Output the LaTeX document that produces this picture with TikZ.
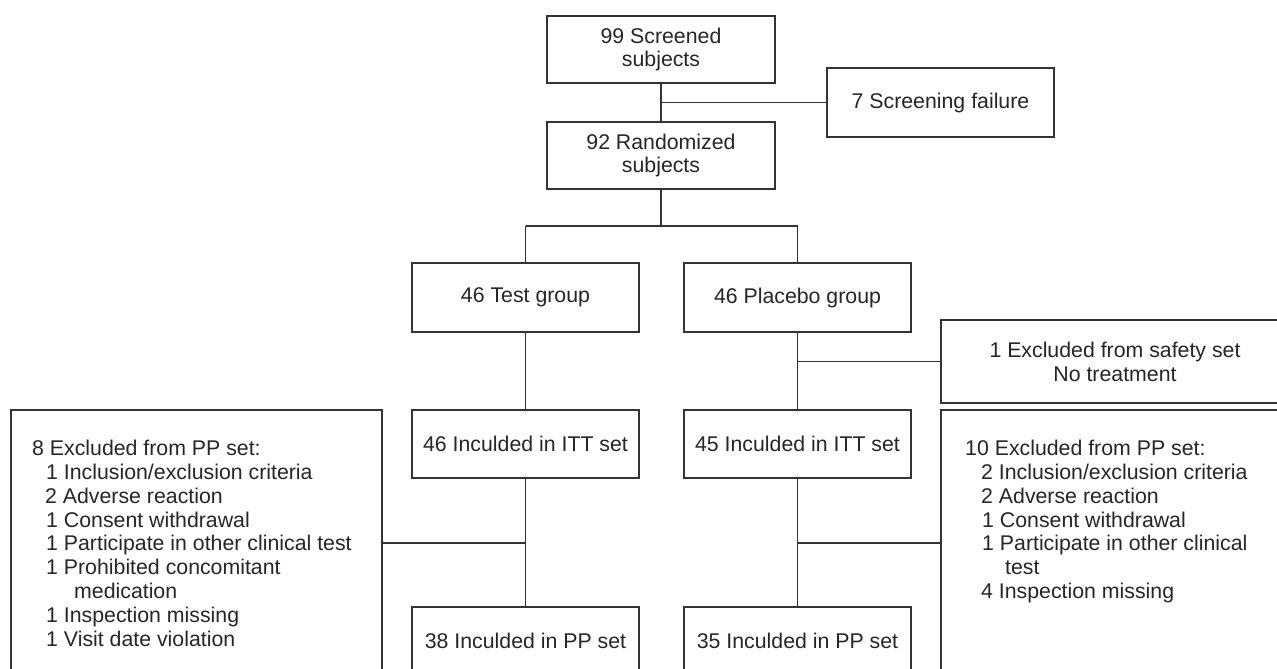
\documentclass[tikz,border=0pt]{standalone}
\usepackage{fontspec}
\setmainfont{Liberation Sans}
\begin{document}
\begin{tikzpicture}[x=1pt,y=-1pt,
  every node/.style={font=\fontsize{21.3}{23.8}\selectfont, text=black!85},
  box/.style={draw=black!80, line width=1.5pt, inner sep=0pt, align=center},
  conn/.style={draw=black!80, line width=1.5pt},
  plain/.style={inner sep=0pt, align=left, anchor=north west}]
\useasboundingbox (0,0) rectangle (1277,669);
\clip (0,0) rectangle (1277,669);
\fill[white] (0,0) rectangle (1277,669);
% boxes
\node[box, minimum width=228pt, minimum height=67pt] (scr) at (661,49.5) {99 Screened\\subjects};
\node[box, minimum width=227pt, minimum height=69pt] (fail) at (940.5,102.5) {7 Screening failure};
\node[box, minimum width=228pt, minimum height=67pt] (rand) at (661,155.5) {92 Randomized\\subjects};
\node[box, minimum width=227pt, minimum height=69pt] (test) at (525.5,297.5) {46 Test group};
\node[box, minimum width=227pt, minimum height=69pt] (plac) at (797.5,297.5) {46 Placebo group};
\node[box, minimum width=348pt, minimum height=83pt] (safe) at (1115,361.5) {1 Excluded from safety set\\No treatment};
\node[box, minimum width=227pt, minimum height=68pt] (ittT) at (525.5,444) {46 Inculded in ITT set};
\node[box, minimum width=227pt, minimum height=68pt] (ittP) at (797.5,444) {45 Inculded in ITT set};
\node[box, minimum width=227pt, minimum height=68pt] (ppT) at (525.5,641) {38 Inculded in PP set};
\node[box, minimum width=227pt, minimum height=68pt] (ppP) at (797.5,641) {35 Inculded in PP set};
\node[box, minimum width=371pt, minimum height=266pt] (exL) at (196.5,543) {};
\node[box, minimum width=348pt, minimum height=266pt] (exR) at (1115,543) {};
% list texts
\node[plain] (exLt) at (32,440) {8 Excluded from PP set:\\
\hspace*{14pt}1 Inclusion/exclusion criteria\\
\hspace*{13pt}2 Adverse reaction\\
\hspace*{14pt}1 Consent withdrawal\\
\hspace*{14pt}1 Participate in other clinical test\\
\hspace*{14pt}1 Prohibited concomitant\\
\hspace*{42pt}medication\\
\hspace*{14pt}1 Inspection missing\\
\hspace*{14pt}1 Visit date violation};
\node[plain] (exRt) at (965,440) {10 Excluded from PP set:\\
\hspace*{16pt}2 Inclusion/exclusion criteria\\
\hspace*{16pt}2 Adverse reaction\\
\hspace*{17pt}1 Consent withdrawal\\
\hspace*{17pt}1 Participate in other clinical\\
\hspace*{40pt}test\\
\hspace*{16pt}4 Inspection missing};
% connectors
\coordinate (j1) at (scr.south |- fail.west);
\coordinate (j2) at (661,226);
\coordinate (j2l) at (test.north |- j2);
\coordinate (j2r) at (plac.north |- j2);
\coordinate (j3) at (plac.south |- safe.west);
\coordinate (j4) at (ittT.south |- exL.east);
\coordinate (j5) at (ittP.south |- exR.west);
\draw[conn] (scr.south) -- (rand.north);
\draw[conn] (fail.west) -- (j1);
\draw[conn] (rand.south) -- (j2);
\draw[conn] (j2l) -- (j2r);
\draw[conn] (j2l) -- (test.north);
\draw[conn] (j2r) -- (plac.north);
\draw[conn] (test.south) -- (ittT.north);
\draw[conn] (plac.south) -- (ittP.north);
\draw[conn] (safe.west) -- (j3);
\draw[conn] (ittT.south) -- (ppT.north);
\draw[conn] (ittP.south) -- (ppP.north);
\draw[conn] (exL.east) -- (j4);
\draw[conn] (exR.west) -- (j5);
\end{tikzpicture}
\end{document}
